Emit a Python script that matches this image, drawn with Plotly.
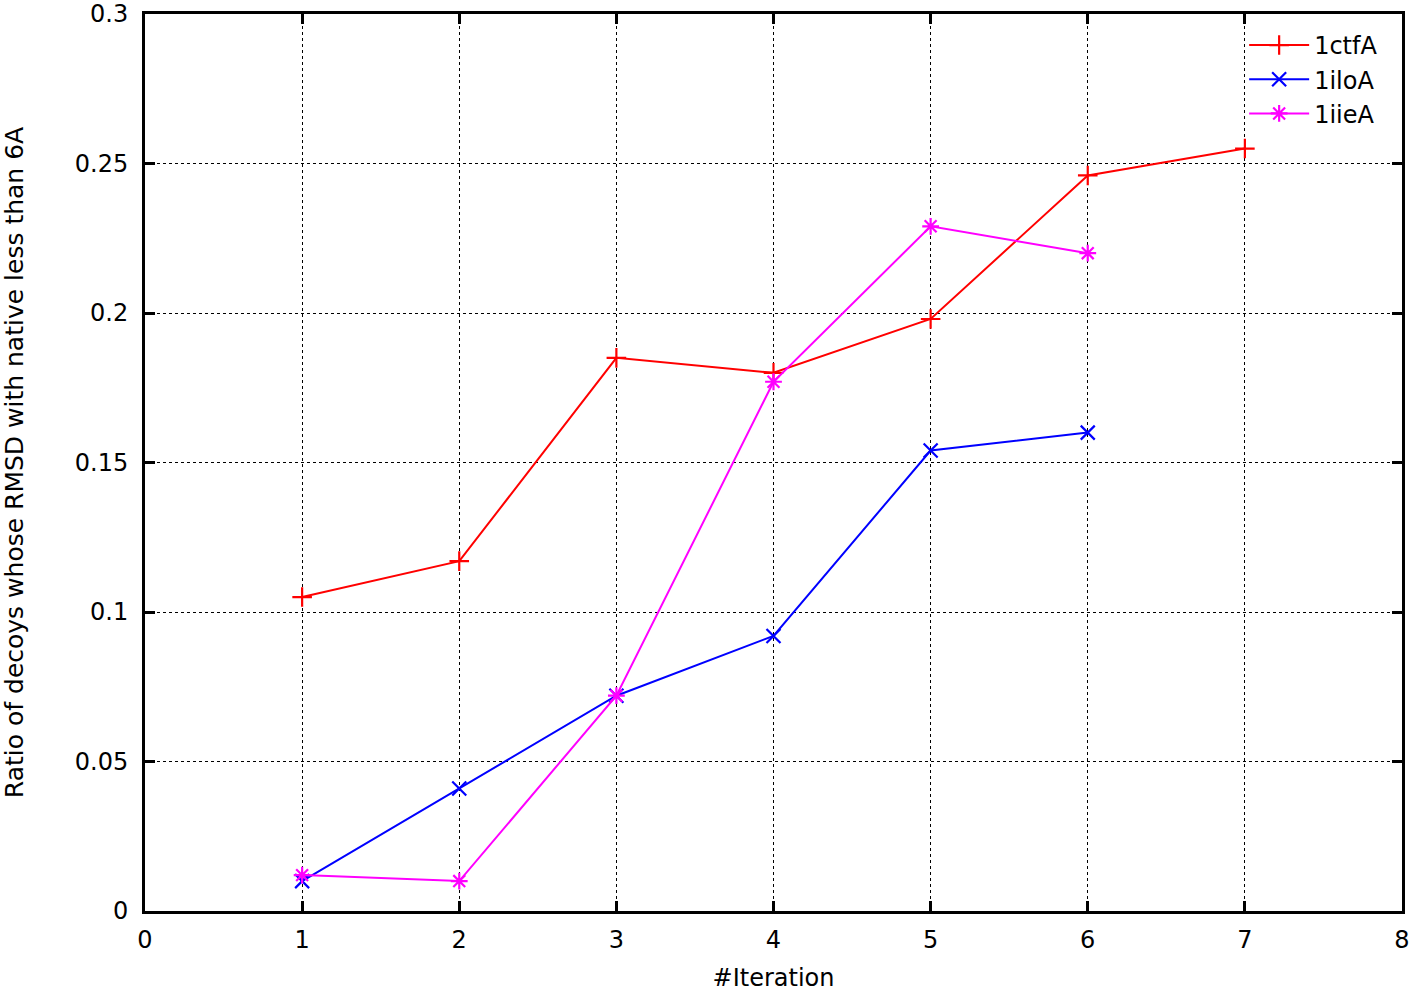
import plotly.graph_objects as go

iterations_ctf = [1, 2, 3, 4, 5, 6, 7]
ratio_1ctfA = [0.105, 0.117, 0.185, 0.180, 0.198, 0.246, 0.255]
iterations_ilo = [1, 2, 3, 4, 5, 6]
ratio_1iloA = [0.010, 0.041, 0.072, 0.092, 0.154, 0.160]
iterations_iie = [1, 2, 3, 4, 5, 6]
ratio_1iieA = [0.012, 0.010, 0.072, 0.177, 0.229, 0.220]

x_ticks = [0, 1, 2, 3, 4, 5, 6, 7, 8]
y_ticks = [0, 0.05, 0.1, 0.15, 0.2, 0.25, 0.3]
y_tick_labels = ["0", "0.05", "0.1", "0.15", "0.2", "0.25", "0.3"]

FONT = "DejaVu Sans, Liberation Sans, Arial, sans-serif"
FS = 24

fig = go.Figure()
series = [
    ("1ctfA", iterations_ctf, ratio_1ctfA, "#ff0000", "cross-thin"),
    ("1iloA", iterations_ilo, ratio_1iloA, "#0000ff", "x-thin"),
    ("1iieA", iterations_iie, ratio_1iieA, "#ff00ff", "asterisk"),
]
for name, xs, ys, color, sym in series:
    fig.add_trace(go.Scatter(
        x=xs, y=ys, name=name, mode="lines+markers",
        line=dict(color=color, width=2),
        marker=dict(symbol=sym, size=14, color=color, line=dict(color=color, width=2.2)),
    ))

axis_common = dict(
    showline=True, linecolor="black", linewidth=3, mirror="ticks",
    ticks="inside", ticklen=10, tickwidth=3, tickcolor="black",
    showgrid=True, gridcolor="black", gridwidth=1.3, griddash="dot",
    zeroline=False, automargin=False, ticklabeloverflow="allow",
    tickfont=dict(family=FONT, size=FS, color="black"),
)

fig.update_xaxes(
    range=[0, 8], tickvals=x_ticks, ticktext=[str(v) for v in x_ticks],
    ticklabelstandoff=5,
    title=dict(text="#Iteration", font=dict(family=FONT, size=FS, color="black"), standoff=28),
    **axis_common,
)
fig.update_yaxes(
    range=[0, 0.3], tickvals=y_ticks, ticktext=y_tick_labels,
    ticklabelstandoff=9,
    title=dict(text="Ratio of decoys whose RMSD with native less than 6A",
               font=dict(family=FONT, size=25, color="black"), standoff=48),
    **axis_common,
)

fig.update_layout(
    width=1413, height=992,
    margin=dict(l=145, r=11, t=14, b=81),
    plot_bgcolor="white", paper_bgcolor="white",
    font=dict(family=FONT, size=FS, color="black"),
    legend=dict(
        x=0.985, y=0.99, xanchor="right", yanchor="top",
        bgcolor="rgba(0,0,0,0)", borderwidth=0,
        font=dict(family=FONT, size=FS, color="black"),
        tracegroupgap=0, itemwidth=60,
    ),
    showlegend=True,
)

fig.write_html("out.html", config={"displayModeBar": False},
               post_script="document.body.style.margin='0';")
